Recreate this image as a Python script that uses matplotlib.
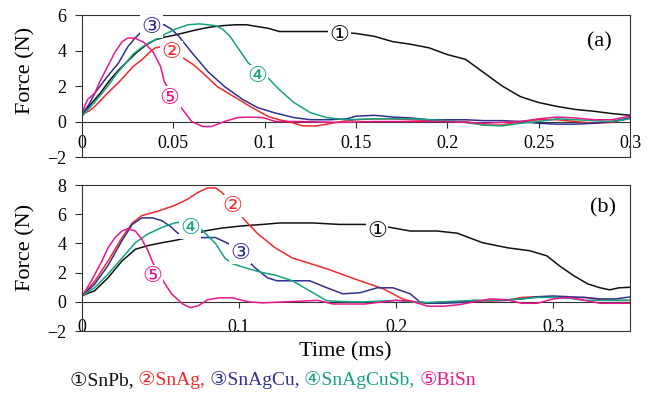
import matplotlib
matplotlib.use("Agg")
import matplotlib.pyplot as plt
from matplotlib.offsetbox import TextArea, HPacker, AnchoredOffsetbox

plt.rcParams['font.family'] = ['Liberation Serif', 'DejaVu Sans']

# ---- data: panel (a) ----
a_snpb_t = [0, .005, .01, .015, .02, .025, .03, .035, .04, .045, .05, .056, .062, .069, .077, .084, .09, .096,
            .102, .108, .125, .136, .15, .16, .17, .18, .19, .2, .21, .22, .23, .24, .25, .26, .27, .28, .29, .3]
a_snpb_f = [.4, 1.0, 1.6, 2.3, 2.9, 3.4, 3.9, 4.3, 4.6, 4.75, 4.85, 5.0, 5.15, 5.3, 5.4, 5.45, 5.45, 5.35,
            5.25, 5.07, 5.07, 5.07, 4.96, 4.8, 4.5, 4.35, 4.15, 3.77, 3.5, 2.75, 2.0, 1.4, 1.07, .85, .68, .58, .45, .35]

a_snag_t = [0, .004, .007, .014, .02, .024, .028, .033, .037, .040, .043, .049, .055, .061, .066, .074, .084, .093,
            .102, .108, .115, .121, .128, .134, .142, .15, .16, .17, .18, .19, .2, .21, .22, .23, .24, .25, .26,
            .27, .28, .29, .3]
a_snag_f = [.4, .6, .85, 1.6, 2.2, 2.65, 3.1, 3.5, 3.9, 4.15, 4.2, 4.0, 3.6, 3.2, 2.75, 1.97, 1.35, .79,
            .28, .1, -.06, -.25, -.25, -.15, 0, .1, .15, .15, .1, .05, 0, 0, -.2, -.2, 0, .1, .1,
            0, -.1, -.05, .2]

a_snagcu_t = [0, .004, .007, .014, .020, .025, .029, .032, .036, .040, .045, .049, .053, .060, .069, .078, .088,
              .096, .105, .116, .125, .135, .145, .15, .16, .17, .18, .19, .2, .21, .22, .23, .24, .25, .26, .27,
              .28, .29, .3]
a_snagcu_f = [.4, 1.0, 1.6, 2.55, 3.3, 4.2, 4.7, 5.0, 5.25, 5.45, 5.45, 5.2, 4.8, 3.9, 2.8, 1.97, 1.24,
              .79, .5, .22, .1, .1, .15, .3, .35, .25, .2, .1, .1, .1, .05, .05, 0, -.1, -.15, -.15,
              -.1, 0, .2]

a_snagcusb_t = [0, .007, .014, .019, .024, .028, .033, .037, .042, .046, .051, .058, .064, .069, .073, .077, .081,
                .085, .091, .096, .101, .108, .116, .125, .134, .145, .16, .18, .2, .21, .22, .23, .24, .25, .26,
                .27, .28, .29, .3]
a_snagcusb_f = [.3, 1.1, 1.97, 2.7, 3.3, 3.8, 4.2, 4.45, 4.7, 4.95, 5.2, 5.45, 5.5, 5.45, 5.4, 5.2, 4.8,
                4.2, 3.3, 2.9, 2.55, 1.8, 1.07, .5, .22, .1, .15, .15, .05, -.05, -.2, -.25, -.1, 0, .15,
                .1, .05, 0, .15]

a_bisn_t = [0, .003, .007, .010, .013, .018, .022, .025, .029, .034, .039, .043, .045, .050, .055, .060, .066, .071,
            .078, .085, .092, .099, .106, .12, .14, .16, .18, .2, .22, .24, .25, .26, .27, .28, .29, .3]
a_bisn_f = [.5, 1.24, 1.6, 2.3, 2.9, 3.9, 4.5, 4.7, 4.7, 4.45, 3.9, 3.1, 2.25, 1.4, .68, 0, -.28, -.28,
            0, .22, .25, .22, 0, 0, -.05, 0, 0, 0, -.1, 0, .15, .25, .2, .1, .1, .3]

# ---- data: panel (b) ----
b_snpb_t = [0, .004, .008, .0166, .0255, .034, .042, .051, .059, .0675, .078, .089, .102, .115, .126, .147, .164,
            .181, .196, .209, .226, .239, .255, .271, .285, .296, .304, .313, .322, .330, .336, .342, .35]
b_snpb_f = [.4, .6, .75, 1.65, 2.8, 3.6, 3.85, 4.05, 4.2, 4.4, 4.85, 5.05, 5.2, 5.3, 5.4, 5.4, 5.3,
            5.3, 5.1, 4.85, 4.85, 4.7, 4.05, 3.7, 3.5, 3.15, 2.47, 1.8, 1.23, .96, .82, .96, 1.0]

b_snag_t = [0, .004, .0083, .0166, .0255, .032, .038, .048, .059, .0675, .074, .080, .085, .089, .096, .104, .112,
            .123, .134, .156, .177, .192, .204, .213, .22, .23, .24, .25, .26, .27, .28, .29, .3, .31, .32, .33,
            .34, .35]
b_snag_f = [.4, .9, 1.44, 2.8, 4.4, 5.4, 5.9, 6.2, 6.6, 7.05, 7.5, 7.8, 7.8, 7.5, 6.6, 5.55, 4.65,
            3.7, 3.0, 2.26, 1.44, .89, .2, -.05, -.1, 0, 0, .1, .05, .1, .3, .35, .3, .25, .3, .15,
            .1, .1]

b_snagcu_t = [0, .004, .008, .0166, .0255, .032, .038, .045, .051, .057, .061, .068, .076, .085, .093, .100, .110,
              .118, .124, .145, .156, .166, .177, .188, .198, .209, .215, .22, .23, .24, .25, .26, .27, .28, .29,
              .3, .31, .32, .33, .34, .35]
b_snagcu_f = [.4, .8, 1.2, 2.5, 4.2, 5.3, 5.75, 5.75, 5.55, 5.1, 4.7, 4.5, 4.4, 4.4, 4.0, 3.4, 2.35,
              1.65, 1.44, 1.44, .96, .55, .62, .96, .96, .55, 0, -.1, -.1, -.05, .05, .1, .1, .2, .35,
              .4, .35, .3, .2, .2, .35]

b_snagcusb_t = [0, .004, .008, .0166, .0255, .034, .042, .051, .059, .065, .072, .077, .085, .091, .096, .106,
                .115, .124, .134, .145, .156, .17, .18, .19, .2, .21, .22, .23, .24, .25, .26, .27, .28, .29,
                .3, .31, .32, .33, .34, .35]
b_snagcusb_f = [.4, .7, .96, 1.9, 3.0, 4.05, 4.65, 5.1, 5.4, 5.5, 5.3, 4.85, 4.0, 3.0, 2.6, 2.26,
                2.0, 1.8, 1.44, .75, .07, 0, 0, .05, .1, 0, -.05, 0, .05, .1, .1, .15, .2, .3,
                .3, .25, .1, .1, .1, .1]

b_bisn_t = [0, .003, .006, .0127, .0166, .021, .0255, .029, .034, .038, .042, .045, .0516, .057, .064, .069, .074,
            .080, .087, .096, .106, .115, .13, .15, .16, .18, .2, .21, .22, .23, .24, .25, .26, .27, .28, .29,
            .3, .31, .32, .33, .34, .35]
b_bisn_f = [.4, .9, 1.44, 2.8, 3.7, 4.4, 4.85, 5.0, 4.85, 4.3, 3.5, 2.7, 1.44, .55, -.14, -.4, -.27,
            .14, .27, .27, 0, -.07, 0, .1, -.15, -.15, .1, .05, -.3, -.3, -.2, 0, .2, .15, -.1, -.1,
            .2, .3, .1, -.1, -.1, -.1]

names = ['SnPb', 'SnAg', 'SnAgCu', 'SnAgCuSb', 'BiSn']
marks = ['\u2460', '\u2461', '\u2462', '\u2463', '\u2464']
colors = ['#111111', '#ee2b2b', '#2e3192', '#14a37f', '#e8178c']

a_series = [(a_snpb_t, a_snpb_f), (a_snag_t, a_snag_f), (a_snagcu_t, a_snagcu_f),
            (a_snagcusb_t, a_snagcusb_f), (a_bisn_t, a_bisn_f)]
b_series = [(b_snpb_t, b_snpb_f), (b_snag_t, b_snag_f), (b_snagcu_t, b_snagcu_f),
            (b_snagcusb_t, b_snagcusb_f), (b_bisn_t, b_bisn_f)]

# label positions (time, force) of the circled numbers
a_label_pos = [(0.141, 4.85), (0.049, 3.89), (0.038, 5.35), (0.096, 2.54), (0.048, 1.35)]
b_label_pos = [(0.188, 4.86), (0.096, 6.58), (0.1006, 3.36), (0.069, 5.07), (0.0446, 1.78)]

a_xticks = [0, 0.05, 0.1, 0.15, 0.2, 0.25, 0.3]
a_xticklabels = ['0', '0.05', '0.1', '0.15', '0.2', '0.25', '0.3']
b_xticks = [0, 0.1, 0.2, 0.3]
b_xticklabels = ['0', '0.1', '0.2', '0.3']

frame = '#333333'

fig = plt.figure(figsize=(6.53, 3.97), dpi=100)
ax1 = fig.add_axes([0.1256, 0.6045, 0.8392, 0.3577])
ax2 = fig.add_axes([0.1256, 0.1662, 0.8392, 0.3678])


def setup(ax, series, label_pos, xlim, ylim, yticks, xticks, xticklabels, xpad, panel, panel_xy, ylab_y):
    for (t, f), c in zip(series, colors):
        ax.plot(t, f, color=c, lw=1.1)
    for (x, y), m, c in zip(label_pos, marks, colors):
        ax.text(x, y, m, color=c, fontsize=16, ha='center', va='center', family=['DejaVu Sans'],
                bbox=dict(boxstyle='square,pad=0.05', fc='white', ec='none'), zorder=5)
    ax.axhline(0, color=frame, lw=0.8, zorder=1)
    ax.plot(xticks, [0] * len(xticks), ls='none', marker=3, ms=4, color=frame, mew=0.8)
    ax.set_xlim(*xlim)
    ax.set_ylim(*ylim)
    ax.set_yticks(yticks)
    ax.set_xticks(xticks)
    ax.set_xticklabels(xticklabels)
    ax.tick_params(axis='x', length=0, pad=xpad, labelsize=13)
    ax.tick_params(axis='y', length=5, width=0.8, pad=6, labelsize=13, color=frame)
    for s in ax.spines.values():
        s.set_color(frame)
        s.set_linewidth(0.8)
    ax.set_ylabel('Force (N)', fontsize=16)
    ax.yaxis.set_label_coords(-0.085, ylab_y)
    ax.text(panel_xy[0], panel_xy[1], panel, transform=ax.transAxes, fontsize=16, ha='center', va='center')


setup(ax1, a_series, a_label_pos, (0, 0.3), (-2, 6), [-2, 0, 2, 4, 6], a_xticks, a_xticklabels,
      -16, '(a)', (0.945, 0.81), 0.61)
setup(ax2, b_series, b_label_pos, (0, 0.349), (-2, 8), [-2, 0, 2, 4, 6, 8], b_xticks, b_xticklabels,
      -9, '(b)', (0.951, 0.842), 0.575)

fig.text(0.528, 0.113, 'Time (ms)', fontsize=16, ha='center', va='center')

# colored legend line
parts = []
for i, (m, n, c) in enumerate(zip(marks, names, colors)):
    s = m + n + (', ' if i < len(names) - 1 else '')
    parts.append(TextArea(s, textprops=dict(color=c, fontsize=14)))
box = HPacker(children=parts, align='baseline', pad=0, sep=0)
anchored = AnchoredOffsetbox(loc='center', child=box, frameon=False, pad=0, borderpad=0,
                             bbox_to_anchor=(0.418, 0.043), bbox_transform=fig.transFigure)
fig.add_artist(anchored)

fig.savefig('out.png', dpi=100)
